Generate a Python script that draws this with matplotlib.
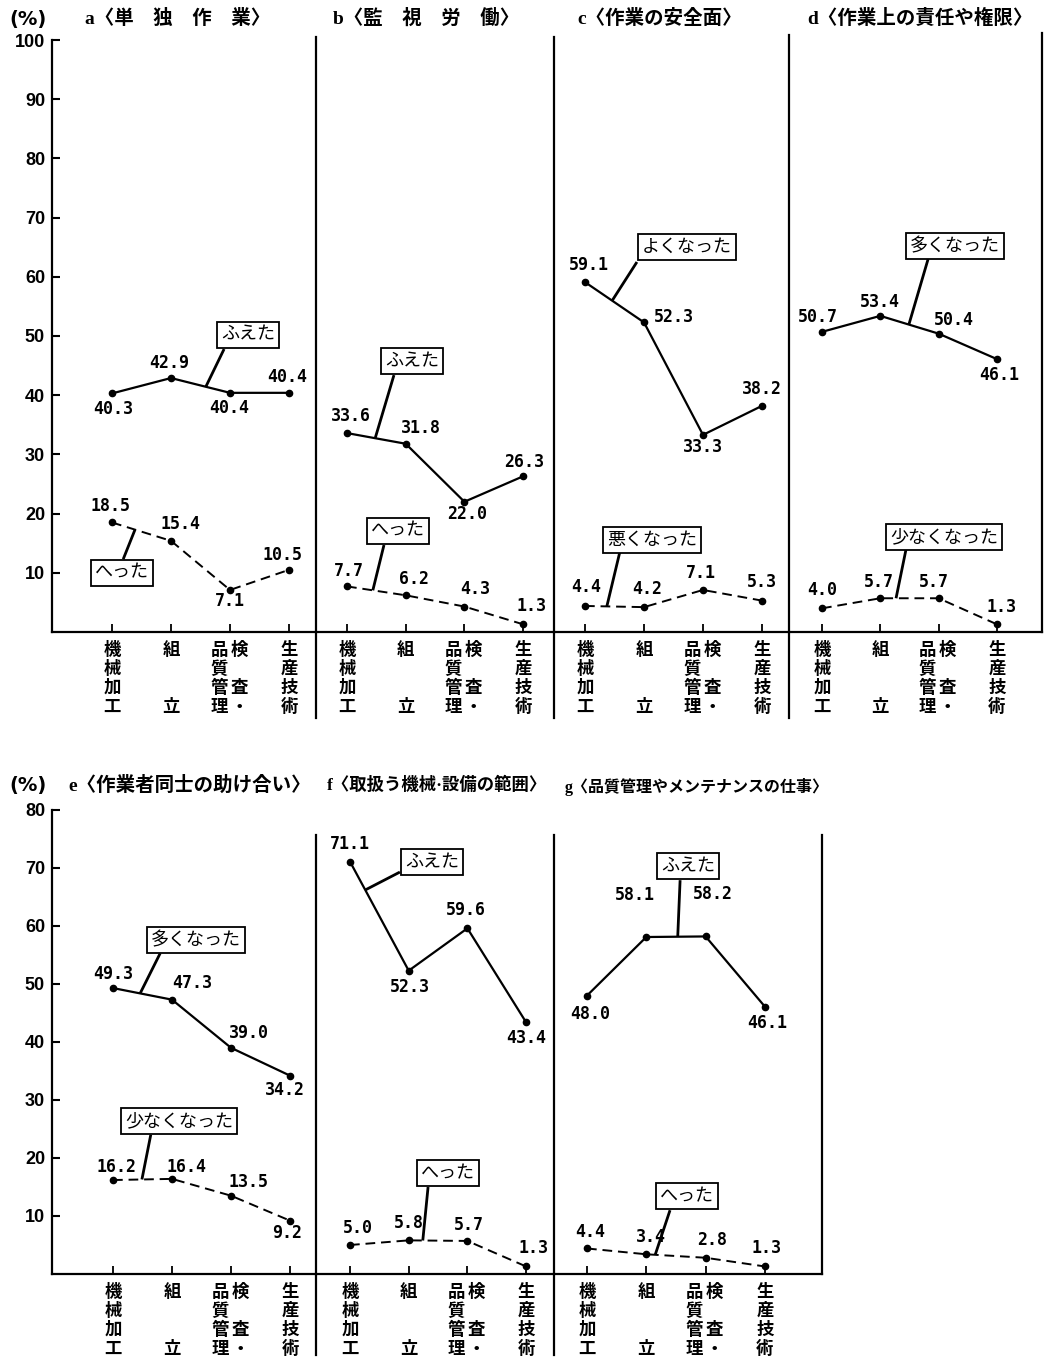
import numpy as np
import matplotlib.pyplot as plt
from matplotlib.lines import Line2D

plt.rcParams['font.family'] = ['Noto Sans CJK JP', 'DejaVu Sans']

W, H = 1049, 1361

# 横軸の職種（縦書き、2列になるものもある）
cat_columns = [["機械加工"], ["組  立"], ["品質管理", "検 査・"], ["生産技術"]]

panel_titles = ["a〈単　独　作　業〉", "b〈監　視　労　働〉", "c〈作業の安全面〉",
                "d〈作業上の責任や権限〉", "e〈作業者同士の助け合い〉",
                "f〈取扱う機械·設備の範囲〉", "g〈品質管理やメンテナンスの仕事〉"]

up_names = ["ふえた", "ふえた", "よくなった", "多くなった", "多くなった", "ふえた", "ふえた"]
down_names = ["へった", "へった", "悪くなった", "少なくなった", "少なくなった", "へった", "へった"]

up_a = [40.3, 42.9, 40.4, 40.4]
down_a = [18.5, 15.4, 7.1, 10.5]
up_b = [33.6, 31.8, 22.0, 26.3]
down_b = [7.7, 6.2, 4.3, 1.3]
up_c = [59.1, 52.3, 33.3, 38.2]
down_c = [4.4, 4.2, 7.1, 5.3]
up_d = [50.7, 53.4, 50.4, 46.1]
down_d = [4.0, 5.7, 5.7, 1.3]
up_e = [49.3, 47.3, 39.0, 34.2]
down_e = [16.2, 16.4, 13.5, 9.2]
up_f = [71.1, 52.3, 59.6, 43.4]
down_f = [5.0, 5.8, 5.7, 1.3]
up_g = [48.0, 58.1, 58.2, 46.1]
down_g = [4.4, 3.4, 2.8, 1.3]

up_values = [up_a, up_b, up_c, up_d, up_e, up_f, up_g]
down_values = [down_a, down_b, down_c, down_d, down_e, down_f, down_g]

# ---- layout (pixels) ----
# row: (baseline y, top y, y max)
rows = [(632, 40, 100), (1274, 810, 80)]
# panel: (left, right, first category x, category step, row)
panels = [(52, 316, 112, 59, 0), (316, 554, 347, 58.7, 0),
          (554, 789, 585, 59, 0), (789, 1042, 822, 58.3, 0),
          (52, 316, 113, 59, 1), (316, 554, 350, 58.7, 1),
          (554, 822, 587, 59.3, 1)]
title_pos = [(85, 18), (333, 18), (577, 18), (807, 18),
             (68, 785), (327, 785), (565, 787)]
title_size = [14, 14, 14, 14, 14, 12.5, 11.5]

# value label offsets in pixels (dx, dy downward)
up_off = [[(1, 16), (-2, -15), (-1, 15), (-2, -16)],
          [(4, -17), (15, -16), (3, 12), (1, -14)],
          [(4, -17), (30, -5), (0, 12), (0, -17)],
          [(-4, -15), (0, -14), (15, -14), (2, 16)],
          [(0, -14), (20, -17), (18, -15), (-5, 14)],
          [(0, -18), (1, 16), (-2, -18), (0, 16)],
          [(3, 18), (-11, -42), (7, -42), (2, 16)]]
down_off = [[(-1, -16), (9, -17), (0, 11), (-7, -15)],
            [(2, -15), (8, -16), (11, -18), (8, -18)],
            [(1, -19), (3, -18), (-2, -17), (0, -19)],
            [(0, -18), (-1, -16), (-5, -16), (5, -17)],
            [(4, -13), (15, -12), (18, -14), (-3, 12)],
            [(8, -17), (0, -17), (1, -16), (7, -18)],
            [(3, -16), (5, -17), (7, -18), (2, -18)]]

# callouts: box centre (x, y), leader start (x, y), leader end x on the line
up_call = [((2.31, 50.2), (1.90, 47.8), 1.59),
           ((1.11, 45.8), (0.80, 43.4), 0.48),
           ((1.73, 65.0), (0.88, 62.5), 0.46),
           ((2.28, 65.2), (1.82, 63.0), 1.49),
           ((1.41, 57.6), (0.80, 55.3), 0.46),
           ((1.40, 71.0), (0.85, 69.3), 0.26),
           ((1.70, 70.3), (1.57, 67.9), 1.53)]
down_call = [((0.17, 10.0), (0.19, 12.3), 0.39),
             ((0.87, 17.1), (0.63, 14.7), 0.44),
             ((1.14, 15.5), (0.59, 13.5), 0.37),
             ((2.09, 16.0), (1.44, 13.9), 1.27),
             ((1.12, 26.4), (0.64, 24.0), 0.49),
             ((1.67, 17.4), (1.33, 15.0), 1.24),
             ((1.69, 13.4), (1.40, 11.0), 1.15)]


def fx(px):
    return px / W


def fy(py):
    return 1 - py / H


fig = plt.figure(figsize=(W / 100, H / 100), dpi=100)
x = np.arange(4)
num_font = dict(family='DejaVu Sans Mono', weight='bold', fontsize=12)

for i in range(7):
    L, R, c0, step, row = panels[i]
    ybase, ytop, ymax = rows[row]
    ax = fig.add_axes([fx(L), fy(ybase), (R - L) / W, (ybase - ytop) / H])
    ax.set_xlim((L - c0) / step, (R - c0) / step)
    ax.set_ylim(0, ymax)
    ax.patch.set_alpha(0)
    ax.spines['top'].set_visible(False)
    ax.spines['right'].set_visible(False)
    ax.spines['bottom'].set_linewidth(1.6)

    ups, downs = up_values[i], down_values[i]
    ax.plot(x, ups, '-', color='k', lw=1.6, marker='o', ms=4.5, zorder=2)
    ax.plot(x, downs, color='k', lw=1.4, ls=(0, (5, 3)), marker='o', ms=4.5, zorder=2)

    ax.set_xticks(x)
    ax.tick_params(axis='x', direction='in', length=5.5, width=1.3, labelbottom=False)

    if L == 52:
        ax.spines['left'].set_linewidth(1.6)
        ticks = np.arange(10, ymax + 1, 10)
        ax.set_yticks(ticks)
        ax.set_yticklabels([str(t) for t in ticks], family='Liberation Sans',
                           weight='bold', fontsize=13)
        ax.tick_params(axis='y', direction='in', length=5.5, width=1.5, pad=5)
    else:
        ax.spines['left'].set_visible(False)
        ax.set_yticks([])

    # value labels
    for j in range(4):
        dx, dy = up_off[i][j]
        ax.annotate(f"{ups[j]:.1f}", (j, ups[j]), xytext=(dx, -dy),
                    textcoords='offset pixels', ha='center', va='center', **num_font)
        dx, dy = down_off[i][j]
        ax.annotate(f"{downs[j]:.1f}", (j, downs[j]), xytext=(dx, -dy),
                    textcoords='offset pixels', ha='center', va='center', **num_font)

    # callout boxes with leader lines
    for name, vals, (box, start, ex) in [(up_names[i], ups, up_call[i]),
                                         (down_names[i], downs, down_call[i])]:
        ey = np.interp(ex, x, vals)
        ax.plot([start[0], ex], [start[1], ey], color='k', lw=2.0,
                solid_capstyle='butt', zorder=3)
        ax.text(box[0], box[1], name, ha='center', va='center', fontsize=13, zorder=5,
                bbox=dict(boxstyle='square,pad=0.22', fc='white', ec='k', lw=1.3))

    # vertical category labels under the axis
    for j, cols in enumerate(cat_columns):
        offs = [0] if len(cols) == 1 else [-11, 9]
        for col, dxp in zip(cols, offs):
            for r, ch in enumerate(col):
                if ch.strip():
                    ax.annotate(ch, (j, 0), xytext=(dxp, -(18 + 19 * r)),
                                textcoords='offset pixels', ha='center', va='center',
                                fontsize=12.5, weight='bold', annotation_clip=False)

    tx, ty = title_pos[i]
    fig.text(fx(tx), fy(ty), panel_titles[i], ha='left', va='center',
             fontsize=title_size[i], weight='bold',
             family=['Liberation Serif', 'Noto Sans CJK JP'])

# panel dividers
dividers = [(316, 37, 718), (554, 37, 718), (789, 35, 718), (1042, 33, 632),
            (316, 835, 1355), (554, 835, 1355), (822, 835, 1274)]
for px, y0, y1 in dividers:
    fig.add_artist(Line2D([fx(px), fx(px)], [fy(y0), fy(y1)], color='k', lw=1.6,
                          transform=fig.transFigure))

for py in (20, 785):
    fig.text(fx(28), fy(py), '(%)', ha='center', va='center', fontsize=14,
             weight='bold', family='DejaVu Sans')

fig.savefig('out.png', dpi=100)
